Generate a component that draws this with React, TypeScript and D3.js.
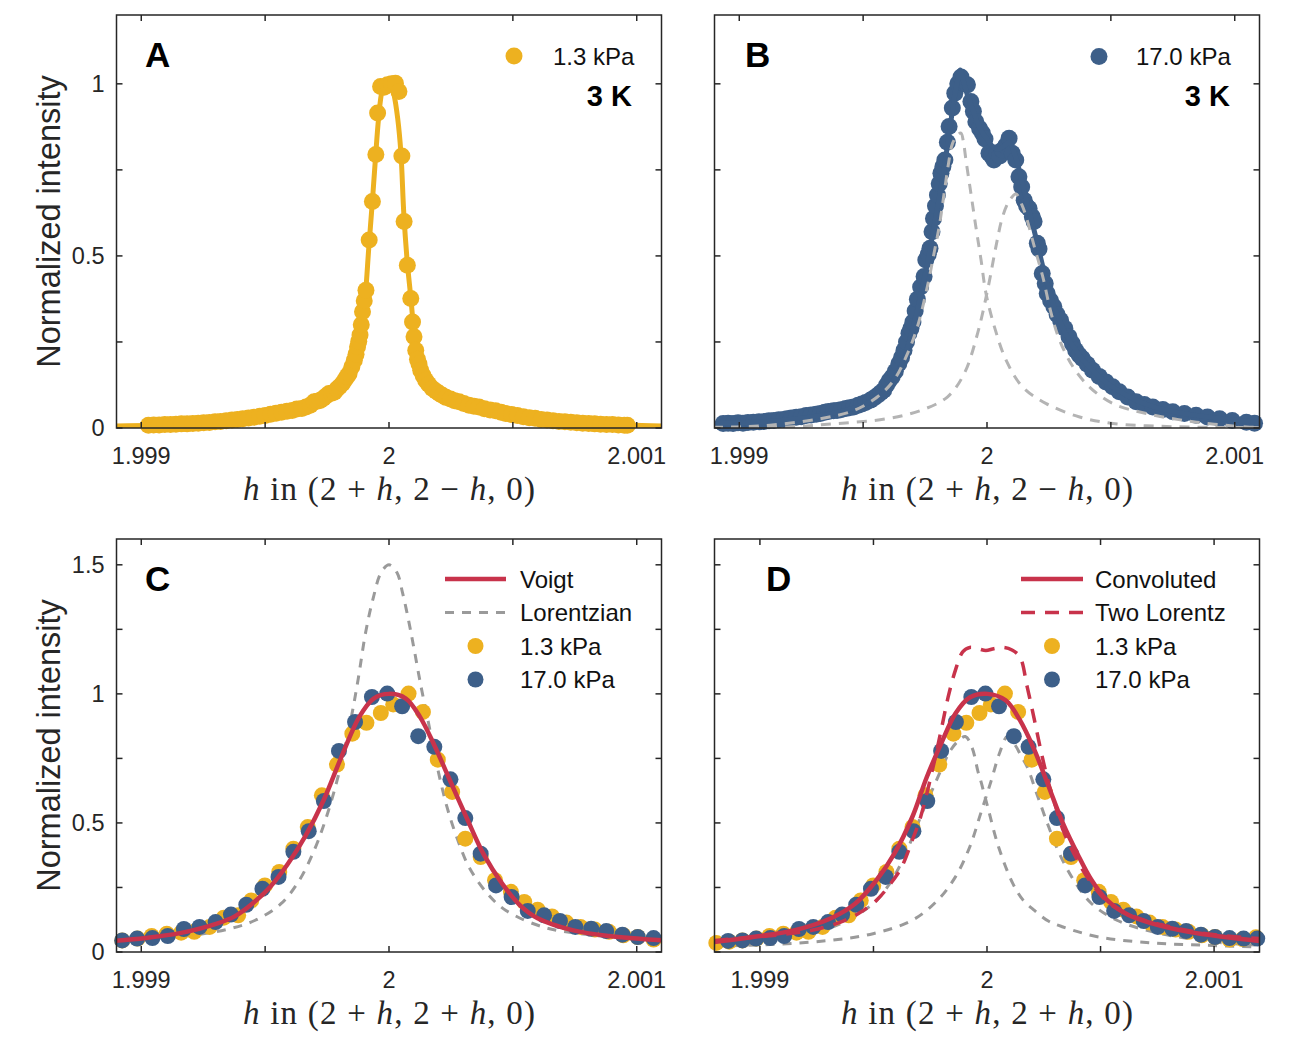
import React from 'react'
import * as d3 from 'd3'

// all h positions below are offsets from h = 2, in units of 1e-6
type Pt = [number, number]

const xTickValues = [1.999, 1.9995, 2, 2.0005, 2.001]
const xTickLabels = [{ v: 1.999, t: '1.999' }, { v: 2, t: '2' }, { v: 2.001, t: '2.001' }]
const yTicksTop = [0, 0.25, 0.5, 0.75, 1]
const yLabelsTop = [{ v: 0, t: '0' }, { v: 0.5, t: '0.5' }, { v: 1, t: '1' }]
const yTicksBottom = [0, 0.25, 0.5, 0.75, 1, 1.25, 1.5]
const yLabelsBottom = [{ v: 0, t: '0' }, { v: 0.5, t: '0.5' }, { v: 1, t: '1' }, { v: 1.5, t: '1.5' }]

const YELLOW = '#edb120'
const BLUE = '#3d5f89'
const RED = '#c8334b'
const INK = '#262626'

// (A) 1.3 kPa scan along (2+h, 2-h, 0)
const scanA: Pt[] = [
  [-971, 0.008], [-950, 0.009], [-928, 0.009], [-905, 0.010], [-882, 0.010], [-860, 0.011], [-838, 0.012],
  [-815, 0.012], [-792, 0.013], [-770, 0.014], [-748, 0.015], [-725, 0.016], [-702, 0.018], [-680, 0.019],
  [-657, 0.021], [-634, 0.023], [-612, 0.025], [-590, 0.027], [-567, 0.029], [-545, 0.031], [-522, 0.034],
  [-500, 0.036], [-478, 0.040], [-456, 0.043], [-434, 0.046], [-412, 0.049], [-391, 0.051], [-372, 0.055],
  [-352, 0.057], [-335, 0.061], [-318, 0.066], [-302, 0.076], [-290, 0.078], [-278, 0.080], [-266, 0.086],
  [-254, 0.093], [-242, 0.100], [-232, 0.101], [-221, 0.104], [-210, 0.113], [-200, 0.120], [-188, 0.129],
  [-178, 0.140], [-169, 0.150], [-161, 0.158], [-150, 0.178], [-140, 0.197], [-133, 0.214], [-127, 0.236],
  [-122, 0.252], [-117, 0.270], [-112, 0.300], [-107, 0.338], [-100, 0.370], [-93, 0.400], [-80, 0.546],
  [-67, 0.658], [-53, 0.795], [-46, 0.915], [-34, 0.992], [-20, 0.990], [-6, 0.997], [10, 1.000],
  [26, 1.002], [40, 0.978], [52, 0.790], [61, 0.600], [74, 0.473], [88, 0.376], [95, 0.308], [101, 0.265],
  [108, 0.226], [115, 0.200], [121, 0.186], [128, 0.168], [138, 0.152], [148, 0.139], [160, 0.127],
  [175, 0.115], [190, 0.107], [203, 0.100], [215, 0.095], [230, 0.089], [248, 0.084], [265, 0.079],
  [283, 0.076], [302, 0.071], [323, 0.066], [343, 0.063], [363, 0.061], [385, 0.056], [408, 0.052],
  [430, 0.050], [452, 0.046], [471, 0.042], [495, 0.039], [518, 0.036], [542, 0.033], [566, 0.030],
  [590, 0.028], [614, 0.025], [638, 0.023], [662, 0.021], [686, 0.019], [710, 0.018], [734, 0.017],
  [758, 0.015], [782, 0.014], [806, 0.013], [830, 0.012], [854, 0.011], [878, 0.010], [902, 0.010],
  [926, 0.009], [950, 0.008], [962, 0.008],
]
const fitA: Pt[] = [
  [-1110, 0.006], [-950, 0.008], [-800, 0.012], [-650, 0.020], [-500, 0.035], [-400, 0.048], [-330, 0.062],
  [-280, 0.078], [-240, 0.095], [-200, 0.120], [-170, 0.150], [-145, 0.185], [-125, 0.235], [-110, 0.300],
  [-95, 0.390], [-82, 0.520], [-68, 0.650], [-55, 0.780], [-42, 0.900], [-28, 0.980], [-12, 1.010],
  [5, 1.010], [20, 0.970], [35, 0.900], [48, 0.800], [60, 0.620], [74, 0.480], [88, 0.380], [101, 0.280],
  [115, 0.215], [130, 0.170], [150, 0.140], [175, 0.115], [215, 0.095], [283, 0.076], [363, 0.061],
  [430, 0.050], [520, 0.037], [620, 0.027], [770, 0.016], [960, 0.009], [1110, 0.006],
]

// (B) 17.0 kPa scan along (2+h, 2-h, 0), with its two-peak fit
const scanB: Pt[] = [
  [-1065, 0.013], [-1045, 0.014], [-1025, 0.013], [-1005, 0.015], [-985, 0.014], [-965, 0.016], [-943, 0.017],
  [-920, 0.018], [-900, 0.019], [-880, 0.021], [-860, 0.022], [-840, 0.024], [-820, 0.025], [-808, 0.027],
  [-790, 0.029], [-770, 0.031], [-750, 0.033], [-730, 0.036], [-710, 0.038], [-690, 0.040], [-673, 0.042],
  [-655, 0.046], [-640, 0.048], [-620, 0.050], [-605, 0.051], [-590, 0.053], [-570, 0.057], [-555, 0.059],
  [-538, 0.061], [-520, 0.066], [-505, 0.070], [-490, 0.074], [-470, 0.081], [-455, 0.088], [-440, 0.096],
  [-428, 0.103], [-417, 0.110], [-405, 0.125], [-395, 0.137], [-383, 0.148], [-370, 0.165], [-356, 0.187],
  [-345, 0.205], [-335, 0.226], [-325, 0.250], [-315, 0.275], [-307, 0.290], [-299, 0.308], [-290, 0.340],
  [-281, 0.374], [-268, 0.410], [-254, 0.440], [-247, 0.488], [-237, 0.505], [-230, 0.522], [-222, 0.570],
  [-216, 0.609], [-208, 0.645], [-200, 0.677], [-193, 0.710], [-186, 0.740], [-178, 0.760], [-170, 0.779],
  [-160, 0.830], [-153, 0.876], [-140, 0.930], [-130, 0.973], [-118, 1.000], [-105, 1.020], [-92, 1.000],
  [-79, 0.997], [-65, 0.949], [-55, 0.920], [-45, 0.890], [-30, 0.870], [-19, 0.857], [-8, 0.840],
  [8, 0.798], [18, 0.790], [28, 0.779], [40, 0.800], [52, 0.790], [62, 0.808], [75, 0.820], [89, 0.842],
  [102, 0.798], [116, 0.779], [129, 0.730], [140, 0.700], [150, 0.662], [160, 0.645], [170, 0.638],
  [183, 0.614], [190, 0.600], [203, 0.537], [210, 0.520], [223, 0.449], [235, 0.420], [243, 0.391],
  [257, 0.370], [270, 0.352], [283, 0.330], [297, 0.313], [314, 0.290], [331, 0.265], [345, 0.245],
  [358, 0.226], [372, 0.212], [385, 0.202], [405, 0.185], [426, 0.168], [453, 0.150], [480, 0.134],
  [507, 0.120], [534, 0.105], [568, 0.090], [602, 0.076], [635, 0.068], [669, 0.061], [710, 0.054],
  [750, 0.047], [797, 0.042], [844, 0.037], [890, 0.032], [939, 0.027], [990, 0.022], [1047, 0.017],
  [1080, 0.014],
]
const fitB: Pt[] = [
  [-1107, 0.012], [-1000, 0.015], [-900, 0.018], [-800, 0.024], [-700, 0.033], [-600, 0.046], [-520, 0.062],
  [-460, 0.080], [-420, 0.100], [-390, 0.125], [-360, 0.160], [-335, 0.200], [-310, 0.260], [-285, 0.330],
  [-260, 0.410], [-240, 0.480], [-220, 0.560], [-200, 0.640], [-180, 0.720], [-160, 0.820], [-140, 0.920],
  [-122, 1.000], [-108, 1.040], [-96, 1.010], [-80, 0.970], [-60, 0.930], [-40, 0.890], [-20, 0.860],
  [0, 0.840], [20, 0.820], [45, 0.810], [70, 0.820], [90, 0.830], [110, 0.800], [130, 0.750], [150, 0.690],
  [170, 0.630], [190, 0.575], [210, 0.515], [230, 0.455], [255, 0.390], [280, 0.335], [310, 0.285],
  [345, 0.240], [385, 0.200], [430, 0.165], [480, 0.133], [540, 0.104], [610, 0.078], [680, 0.060],
  [760, 0.046], [850, 0.036], [950, 0.027], [1050, 0.020], [1107, 0.017],
]
const peakB1: Pt[] = [
  [-1106, 0.002], [-1011, 0.003], [-876, 0.008], [-673, 0.027], [-537, 0.051], [-443, 0.090], [-376, 0.139],
  [-321, 0.216], [-281, 0.294], [-241, 0.410], [-214, 0.507], [-193, 0.585], [-173, 0.682], [-155, 0.770],
  [-139, 0.827], [-120, 0.850], [-105, 0.857], [-95, 0.830], [-85, 0.779], [-65, 0.682], [-45, 0.585],
  [-24, 0.488], [-4, 0.391], [30, 0.294], [77, 0.197], [144, 0.119], [239, 0.071], [374, 0.032],
  [508, 0.013], [700, 0.005], [900, 0.002], [1106, 0.001],
]
const peakB2: Pt[] = [
  [-1106, 0.001], [-808, 0.003], [-605, 0.013], [-403, 0.027], [-268, 0.051], [-160, 0.090], [-92, 0.158],
  [-38, 0.275], [5, 0.410], [36, 0.527], [63, 0.614], [90, 0.660], [117, 0.680], [140, 0.650], [158, 0.614],
  [191, 0.527], [225, 0.440], [259, 0.333], [293, 0.255], [347, 0.178], [414, 0.119], [508, 0.071],
  [643, 0.042], [845, 0.017], [1047, 0.003], [1106, 0.002],
]

// (C, D) scans along (2+h, 2+h, 0)
const scan13: Pt[] = [
  [-1192, 0.035], [-1135, 0.040], [-1077, 0.045], [-1015, 0.052], [-958, 0.062], [-897, 0.071], [-839, 0.075],
  [-786, 0.078], [-724, 0.097], [-667, 0.133], [-609, 0.142], [-556, 0.200], [-501, 0.258], [-443, 0.310],
  [-386, 0.400], [-328, 0.484], [-271, 0.607], [-210, 0.726], [-148, 0.846], [-91, 0.888], [-33, 0.926],
  [17, 0.959], [79, 1.001], [137, 0.930], [197, 0.745], [255, 0.620], [308, 0.439], [370, 0.368],
  [428, 0.278], [492, 0.233], [546, 0.194], [600, 0.164], [658, 0.138], [716, 0.114], [773, 0.097],
  [831, 0.087], [888, 0.078], [946, 0.065], [1004, 0.058], [1068, 0.048], [1126, 0.050], [1184, 0.057],
]
const scan170: Pt[] = [
  [-1140, 0.043], [-1077, 0.045], [-1017, 0.052], [-955, 0.054], [-893, 0.062], [-828, 0.089], [-765, 0.097],
  [-700, 0.116], [-638, 0.145], [-576, 0.183], [-511, 0.245], [-446, 0.291], [-386, 0.388], [-324, 0.468],
  [-263, 0.585], [-202, 0.779], [-137, 0.891], [-69, 0.988], [-7, 1.001], [53, 0.952], [118, 0.836],
  [183, 0.795], [248, 0.669], [308, 0.519], [370, 0.381], [432, 0.258], [495, 0.213], [560, 0.159],
  [626, 0.142], [690, 0.120], [752, 0.097], [816, 0.090], [877, 0.081], [942, 0.067], [1004, 0.058],
  [1068, 0.054], [1130, 0.052], [1190, 0.052],
]
const voigt: Pt[] = [
  [-1105, 0.043], [-983, 0.054], [-839, 0.074], [-695, 0.110], [-623, 0.138], [-552, 0.187], [-480, 0.252],
  [-408, 0.342], [-336, 0.452], [-264, 0.588], [-192, 0.756], [-120, 0.911], [-62, 0.982], [0, 1.000],
  [68, 0.982], [125, 0.911], [183, 0.801], [240, 0.678], [312, 0.523], [384, 0.375], [456, 0.266],
  [528, 0.182], [600, 0.131], [744, 0.084], [888, 0.062], [1105, 0.045],
]
const lorentzian: Pt[] = [
  [-1105, 0.043], [-1016, 0.048], [-793, 0.065], [-644, 0.090], [-540, 0.123], [-436, 0.187], [-362, 0.278],
  [-302, 0.394], [-257, 0.510], [-213, 0.652], [-183, 0.770], [-150, 0.920], [-124, 1.060], [-94, 1.240],
  [-64, 1.370], [-32, 1.470], [0, 1.500], [32, 1.470], [55, 1.390], [80, 1.280], [100, 1.180], [129, 1.030],
  [159, 0.890], [189, 0.743], [234, 0.562], [278, 0.433], [323, 0.329], [397, 0.226], [472, 0.161],
  [621, 0.097], [769, 0.071], [918, 0.056], [1105, 0.043],
]
const convoluted: Pt[] = [
  [-1200, 0.039], [-1008, 0.061], [-850, 0.084], [-692, 0.129], [-581, 0.187], [-487, 0.278], [-408, 0.381],
  [-329, 0.523], [-265, 0.678], [-202, 0.807], [-139, 0.924], [-76, 0.986], [3, 1.000], [82, 0.975],
  [145, 0.898], [209, 0.782], [272, 0.640], [335, 0.497], [398, 0.381], [461, 0.278], [524, 0.205],
  [619, 0.145], [730, 0.110], [888, 0.078], [1046, 0.058], [1200, 0.043],
]
const twoLorentz: Pt[] = [
  [-1200, 0.045], [-929, 0.065], [-771, 0.084], [-645, 0.116], [-566, 0.149], [-487, 0.200], [-420, 0.270],
  [-376, 0.329], [-329, 0.433], [-297, 0.510], [-265, 0.614], [-234, 0.730], [-202, 0.859], [-171, 0.988],
  [-139, 1.092], [-107, 1.163], [-76, 1.180], [-40, 1.175], [-5, 1.168], [30, 1.175], [70, 1.180],
  [110, 1.170], [145, 1.143], [177, 1.027], [209, 0.898], [240, 0.769], [272, 0.652], [303, 0.562],
  [335, 0.472], [398, 0.355], [461, 0.265], [540, 0.187], [651, 0.136], [809, 0.097], [967, 0.071],
  [1200, 0.052],
]
const lorentzLeft: Pt[] = [
  [-1200, 0.026], [-1008, 0.039], [-771, 0.071], [-613, 0.123], [-502, 0.187], [-440, 0.250], [-380, 0.340],
  [-330, 0.440], [-285, 0.540], [-240, 0.630], [-200, 0.710], [-165, 0.775], [-130, 0.815], [-95, 0.835],
  [-65, 0.790], [-40, 0.700], [-28, 0.665], [3, 0.562], [51, 0.407], [114, 0.265], [160, 0.200],
  [209, 0.161], [270, 0.120], [335, 0.097], [493, 0.058], [730, 0.035], [967, 0.026], [1200, 0.019],
]
const lorentzRight: Pt[] = [
  [-1200, 0.022], [-929, 0.030], [-692, 0.045], [-502, 0.071], [-329, 0.123], [-218, 0.200], [-139, 0.291],
  [-76, 0.407], [-28, 0.536], [19, 0.665], [55, 0.770], [90, 0.835], [125, 0.800], [150, 0.760],
  [177, 0.717], [224, 0.601], [272, 0.484], [319, 0.381], [382, 0.278], [461, 0.187], [572, 0.123],
  [730, 0.078], [888, 0.052], [1046, 0.035], [1200, 0.026],
]

const SANS = "'Liberation Sans', Arial, Helvetica, sans-serif"
const SERIF = "'Liberation Serif', 'Times New Roman', serif"

type Layer =
  | { kind: 'line'; data: Pt[]; color: string; width: number; dash?: string }
  | { kind: 'dots'; data: Pt[]; color: string; r: number }

interface PanelSpec {
  id: string
  left: number
  top: number
  width: number
  height: number
  xDomain: [number, number]
  yMax: number
  yTicks: number[]
  yLabels: { v: number; t: string }[] | null
  sign: string
  letter: string
  letterX: number
  layers: Layer[]
}

const toH = (dh: number) => 2 + dh * 1e-6

function Panel({ p }: { p: PanelSpec }) {
  const x = d3.scaleLinear().domain(p.xDomain).range([p.left, p.left + p.width])
  const y = d3.scaleLinear().domain([0, p.yMax]).range([p.top + p.height, p.top])
  const bottom = p.top + p.height
  const right = p.left + p.width
  const line = d3
    .line<Pt>()
    .x(d => x(toH(d[0])))
    .y(d => y(d[1]))
    .curve(d3.curveCatmullRom.alpha(0.5))
  const tick = 6
  const clip = `clip-${p.id}`

  return (
    <g>
      <defs>
        <clipPath id={clip}>
          <rect x={p.left} y={p.top} width={p.width} height={p.height} />
        </clipPath>
      </defs>
      <rect x={p.left} y={p.top} width={p.width} height={p.height} fill="#fff" />

      {p.layers.map((l, i) =>
        l.kind === 'line' ? (
          <path
            key={i}
            d={line(l.data) || ''}
            fill="none"
            stroke={l.color}
            strokeWidth={l.width}
            strokeDasharray={l.dash}
            strokeLinejoin="round"
            clipPath={`url(#${clip})`}
          />
        ) : (
          <g key={i} fill={l.color}>
            {l.data
              .filter(d => toH(d[0]) >= p.xDomain[0] && toH(d[0]) <= p.xDomain[1])
              .map((d, j) => (
                <circle key={j} cx={x(toH(d[0]))} cy={y(d[1])} r={l.r} />
              ))}
          </g>
        )
      )}

      {/* box and inward ticks on all four sides */}
      <g stroke={INK} strokeWidth={1.5}>
        {xTickValues.map(v => (
          <g key={v}>
            <line x1={x(v)} x2={x(v)} y1={bottom} y2={bottom - tick} />
            <line x1={x(v)} x2={x(v)} y1={p.top} y2={p.top + tick} />
          </g>
        ))}
        {p.yTicks.map(v => (
          <g key={v}>
            <line x1={p.left} x2={p.left + tick} y1={y(v)} y2={y(v)} />
            <line x1={right} x2={right - tick} y1={y(v)} y2={y(v)} />
          </g>
        ))}
        <rect x={p.left} y={p.top} width={p.width} height={p.height} fill="none" />
      </g>

      <g fontFamily={SANS} fontSize={23.5} fill={INK}>
        {xTickLabels.map(t => (
          <text key={t.t} x={x(t.v)} y={bottom + 36} textAnchor="middle">
            {t.t}
          </text>
        ))}
        {p.yLabels &&
          p.yLabels.map(t => (
            <text key={t.t} x={p.left - 12} y={y(t.v)} dy="0.36em" textAnchor="end">
              {t.t}
            </text>
          ))}
      </g>

      {p.yLabels && (
        <text
          transform={`translate(60, ${p.top + p.height / 2}) rotate(-90)`}
          textAnchor="middle"
          fontFamily={SANS}
          fontSize={32.5}
          fill={INK}
        >
          Normalized intensity
        </text>
      )}

      <text
        x={p.left + p.width / 2}
        y={bottom + 72}
        textAnchor="middle"
        fontFamily={SERIF}
        fontSize={33}
        fill={INK}
        textLength={292}
        lengthAdjust="spacing"
        style={{ whiteSpace: 'pre' }}
      >
        <tspan fontStyle="italic">h</tspan>
        <tspan>{' in (2 + '}</tspan>
        <tspan fontStyle="italic">h</tspan>
        <tspan>{`, 2 ${p.sign} `}</tspan>
        <tspan fontStyle="italic">h</tspan>
        <tspan>{', 0)'}</tspan>
      </text>

      <text x={p.letterX} y={p.top + 52} fontFamily={SANS} fontWeight="bold" fontSize={35} fill="#000">
        {p.letter}
      </text>
    </g>
  )
}

const TOP_ROW = { top: 15, height: 413 }
const BOTTOM_ROW = { top: 539, height: 413 }
const GRAY_C = '#9a9a9a'
const GRAY_B = '#b4b4b4'

const panels: PanelSpec[] = [
  {
    id: 'a', left: 116.5, width: 545, ...TOP_ROW, xDomain: [1.9989, 2.0011], yMax: 1.2,
    yTicks: yTicksTop, yLabels: yLabelsTop, sign: '−', letter: 'A', letterX: 145,
    layers: [
      { kind: 'line', data: fitA, color: YELLOW, width: 5 },
      { kind: 'dots', data: scanA, color: YELLOW, r: 8.5 },
    ],
  },
  {
    id: 'b', left: 714.5, width: 545, ...TOP_ROW, xDomain: [1.9989, 2.0011], yMax: 1.2,
    yTicks: yTicksTop, yLabels: null, sign: '−', letter: 'B', letterX: 745,
    layers: [
      { kind: 'dots', data: scanB, color: BLUE, r: 8.5 },
      { kind: 'line', data: fitB, color: BLUE, width: 5 },
      { kind: 'line', data: peakB1, color: GRAY_B, width: 3, dash: '10 8' },
      { kind: 'line', data: peakB2, color: GRAY_B, width: 3, dash: '10 8' },
    ],
  },
  {
    id: 'c', left: 116.5, width: 545, ...BOTTOM_ROW, xDomain: [1.9989, 2.0011], yMax: 1.6,
    yTicks: yTicksBottom, yLabels: yLabelsBottom, sign: '+', letter: 'C', letterX: 145,
    layers: [
      { kind: 'line', data: lorentzian, color: GRAY_C, width: 3, dash: '9 8' },
      { kind: 'dots', data: scan13, color: YELLOW, r: 8 },
      { kind: 'dots', data: scan170, color: BLUE, r: 8 },
      { kind: 'line', data: voigt, color: RED, width: 4.5 },
    ],
  },
  {
    id: 'd', left: 714.5, width: 545, ...BOTTOM_ROW, xDomain: [1.9988, 2.0012], yMax: 1.6,
    yTicks: yTicksBottom, yLabels: null, sign: '+', letter: 'D', letterX: 766,
    layers: [
      { kind: 'line', data: lorentzLeft, color: GRAY_C, width: 3, dash: '9 8' },
      { kind: 'line', data: lorentzRight, color: GRAY_C, width: 3, dash: '9 8' },
      { kind: 'dots', data: scan13, color: YELLOW, r: 8 },
      { kind: 'dots', data: scan170, color: BLUE, r: 8 },
      { kind: 'line', data: twoLorentz, color: RED, width: 3.5, dash: '14 10' },
      { kind: 'line', data: convoluted, color: RED, width: 4.5 },
    ],
  },
]

function LegendText({ x, y, children }: { x: number; y: number; children: React.ReactNode }) {
  return (
    <text x={x} y={y} dy="0.36em" fontFamily={SANS} fontSize={24} fill="#111">
      {children}
    </text>
  )
}

export default function App() {
  const rows = [579, 612.5, 646, 679.5]
  return (
    <svg
      width={1300}
      height={1063}
      viewBox="0 0 1300 1063"
      style={{ position: 'absolute', left: 0, top: 0, background: '#fff' }}
    >
      <rect width={1300} height={1063} fill="#fff" />
      {panels.map(p => (
        <Panel key={p.id} p={p} />
      ))}

      {/* legend A */}
      <circle cx={514} cy={56} r={8.5} fill={YELLOW} />
      <LegendText x={553} y={56}>1.3 kPa</LegendText>
      <text x={632} y={96} dy="0.36em" textAnchor="end" fontFamily={SANS} fontWeight="bold" fontSize={29}>
        3 K
      </text>

      {/* legend B */}
      <circle cx={1099} cy={56.5} r={8.5} fill={BLUE} />
      <LegendText x={1136} y={56.5}>17.0 kPa</LegendText>
      <text x={1230} y={96} dy="0.36em" textAnchor="end" fontFamily={SANS} fontWeight="bold" fontSize={29}>
        3 K
      </text>

      {/* legend C */}
      <line x1={445} x2={506} y1={rows[0]} y2={rows[0]} stroke={RED} strokeWidth={4.5} />
      <LegendText x={520} y={rows[0]}>Voigt</LegendText>
      <line x1={445} x2={506} y1={rows[1]} y2={rows[1]} stroke={GRAY_C} strokeWidth={3} strokeDasharray="9 8" />
      <LegendText x={520} y={rows[1]}>Lorentzian</LegendText>
      <circle cx={475.5} cy={rows[2]} r={8} fill={YELLOW} />
      <LegendText x={520} y={rows[2]}>1.3 kPa</LegendText>
      <circle cx={475.5} cy={rows[3]} r={8} fill={BLUE} />
      <LegendText x={520} y={rows[3]}>17.0 kPa</LegendText>

      {/* legend D */}
      <line x1={1021} x2={1083} y1={rows[0]} y2={rows[0]} stroke={RED} strokeWidth={4.5} />
      <LegendText x={1095} y={rows[0]}>Convoluted</LegendText>
      <line x1={1021} x2={1083} y1={rows[1]} y2={rows[1]} stroke={RED} strokeWidth={3.5} strokeDasharray="14 10" />
      <LegendText x={1095} y={rows[1]}>Two Lorentz</LegendText>
      <circle cx={1052} cy={rows[2]} r={8} fill={YELLOW} />
      <LegendText x={1095} y={rows[2]}>1.3 kPa</LegendText>
      <circle cx={1052} cy={rows[3]} r={8} fill={BLUE} />
      <LegendText x={1095} y={rows[3]}>17.0 kPa</LegendText>
    </svg>
  )
}
